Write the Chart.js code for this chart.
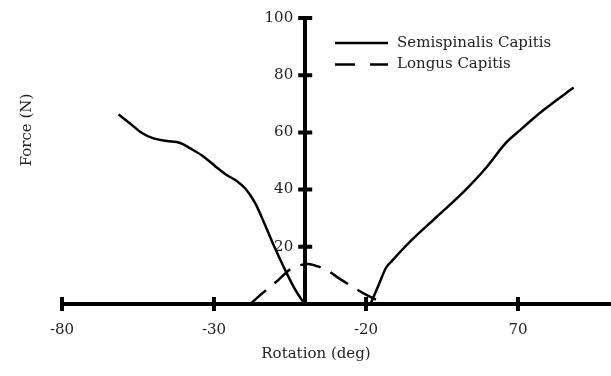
<!DOCTYPE html>
<html>
<head>
<meta charset="utf-8">
<script src="https://cdn.jsdelivr.net/npm/chart.js@4/dist/chart.umd.min.js"></script>
<style>
  html, body { margin: 0; padding: 0; background: #fff; }
  #wrap { width: 611px; height: 376px; }
</style>
</head>
<body>
<div id="wrap"><canvas id="c" width="611" height="376"></canvas></div>
<script>
// Series names
const seriesNames = ['Semispinalis Capitis', 'Longus Capitis'];

// Semispinalis Capitis, negative rotation branch
const semiLeftX = [-61.4, -57.6, -53.7, -49.9, -45.5, -41.1, -37.8, -33.4, -29.6, -25.8, -22.5, -19.7, -16.4, -13.2, -10.4, -7.1, -3.8, -1.1, 0];
const semiLeftY = [66.3, 63.1, 59.8, 57.9, 57.0, 56.3, 54.4, 51.5, 48.2, 45.1, 43.0, 40.4, 35.2, 27.6, 20.6, 13.0, 6.0, 1.4, 0];

// Semispinalis Capitis, positive rotation branch
const semiRightX = [21.5, 24.5, 26.5, 28.5, 34.5, 43.3, 52.1, 59.8, 65.8, 70.7, 78.4, 88.3];
const semiRightY = [0, 7.5, 12.5, 15.0, 21.8, 30.5, 39.2, 48.0, 56.1, 60.8, 67.8, 75.7];

// Longus Capitis
const longusX = [-18.1, -12.6, -9.9, -4.4, -1.6, 1.1, 4.0, 7.1, 10.4, 16.4, 20.3, 25.7, 27.5];
const longusY = [0, 5.1, 7.4, 12.5, 13.6, 14.0, 13.2, 11.9, 9.5, 5.5, 3.1, 0.5, 0];

// Axis ticks
const xTickValues = [-80, -30, 20, 70];
const xTickLabels = ['-80', '-30', '-20', '70'];
const yTickValues = [20, 40, 60, 80, 100];

const toPoints = (xs, ys) => xs.map((v, i) => ({ x: v, y: ys[i] }));

// the two Semispinalis branches are kept apart by a gap
const semiData = toPoints(semiLeftX, semiLeftY)
  .concat([{ x: 10, y: null }])
  .concat(toPoints(semiRightX, semiRightY));
const longusData = toPoints(longusX, longusY);

const FONT = 'DejaVu Serif';
const TEXT = '#222';

// crossing tick marks, y tick labels, axis titles and a line-sample legend
const decor = {
  id: 'decor',
  beforeDatasetsDraw(chart) {
    const { ctx, scales: { x, y } } = chart;
    const yAxisPx = x.getPixelForValue(0);
    const xAxisPx = y.getPixelForValue(0);
    ctx.save();
    ctx.strokeStyle = '#000';
    ctx.lineWidth = 4;
    ctx.beginPath();
    x.ticks.forEach(t => {
      const px = x.getPixelForValue(t.value);
      ctx.moveTo(px, xAxisPx - 7);
      ctx.lineTo(px, xAxisPx + 7);
    });
    y.ticks.forEach(t => {
      const py = y.getPixelForValue(t.value);
      ctx.moveTo(yAxisPx - 7, py);
      ctx.lineTo(yAxisPx + 7, py);
    });
    ctx.stroke();

    // y tick labels sit to the left of the centred axis
    ctx.fillStyle = TEXT;
    ctx.font = '15px "' + FONT + '"';
    ctx.textAlign = 'right';
    ctx.textBaseline = 'middle';
    y.ticks.forEach(t => {
      ctx.fillText(String(t.value), yAxisPx - 12, y.getPixelForValue(t.value));
    });
    ctx.restore();
  },
  afterDraw(chart) {
    const { ctx } = chart;
    ctx.save();
    ctx.fillStyle = TEXT;
    ctx.font = '15px "' + FONT + '"';
    ctx.textAlign = 'center';
    ctx.textBaseline = 'middle';
    ctx.fillText('Rotation (deg)', 316, 354);
    ctx.save();
    ctx.translate(27, 130);
    ctx.rotate(-Math.PI / 2);
    ctx.fillText('Force (N)', 0, 0);
    ctx.restore();

    // legend
    ctx.textAlign = 'left';
    chart.data.datasets.forEach((ds, i) => {
      const ly = 43 + i * 21.5;
      ctx.save();
      ctx.strokeStyle = ds.borderColor;
      ctx.lineWidth = 2.5;
      ctx.setLineDash(ds.borderDash ? [20, 15] : []);
      ctx.beginPath();
      ctx.moveTo(335, ly);
      ctx.lineTo(388, ly);
      ctx.stroke();
      ctx.restore();
      ctx.fillText(ds.label, 397, ly);
    });
    ctx.restore();
  }
};

new Chart(document.getElementById('c'), {
  type: 'line',
  data: {
    datasets: [
      {
        label: seriesNames[0],
        data: semiData,
        borderColor: '#000',
        borderWidth: 2.5,
        pointRadius: 0,
        cubicInterpolationMode: 'monotone',
        spanGaps: false,
        fill: false
      },
      {
        label: seriesNames[1],
        data: longusData,
        borderColor: '#000',
        borderWidth: 2.5,
        borderDash: [21, 11],
        pointRadius: 0,
        cubicInterpolationMode: 'monotone',
        fill: false
      }
    ]
  },
  options: {
    responsive: false,
    animation: false,
    layout: { padding: { left: 62, right: 0, top: 18, bottom: 72 } },
    plugins: { legend: { display: false }, tooltip: { enabled: false } },
    scales: {
      x: {
        type: 'linear',
        min: -80,
        max: 100.6,
        position: { y: 0 },
        afterBuildTicks: s => { s.ticks = xTickValues.map(v => ({ value: v })); },
        grid: { drawOnChartArea: false, drawTicks: false },
        border: { display: true, width: 4, color: '#000' },
        ticks: {
          padding: 17,
          color: TEXT,
          font: { family: FONT, size: 15 },
          maxRotation: 0,
          callback: v => xTickLabels[xTickValues.indexOf(v)]
        }
      },
      y: {
        type: 'linear',
        min: 0,
        max: 100,
        position: { x: 0 },
        afterBuildTicks: s => { s.ticks = yTickValues.map(v => ({ value: v })); },
        grid: { drawOnChartArea: false, drawTicks: false },
        border: { display: true, width: 4, color: '#000' },
        ticks: { display: false }
      }
    }
  },
  plugins: [decor]
});
</script>
</body>
</html>
